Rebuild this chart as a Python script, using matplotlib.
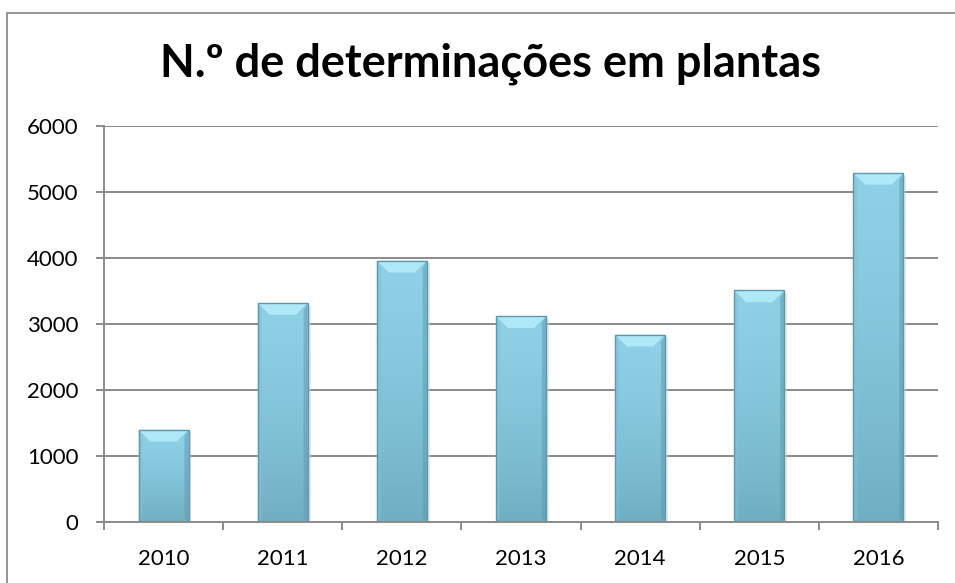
import matplotlib
matplotlib.use("Agg")
import matplotlib.pyplot as plt
import numpy as np
from matplotlib.patches import Rectangle, Polygon

years = ["2010", "2011", "2012", "2013", "2014", "2015", "2016"]
values = [1400, 3320, 3960, 3120, 2840, 3510, 5290]
yticks = [0, 1000, 2000, 3000, 4000, 5000, 6000]
title = "N.º de determinações em plantas"

W, H = 955, 583
fig = plt.figure(figsize=(W / 100, H / 100), dpi=100)
fig.patch.set_facecolor("white")
fig.patches.append(Rectangle((7 / W, -0.1), 1.2, 1 - 13 / H + 0.1, transform=fig.transFigure,
                             fill=False, edgecolor="#8c8c8c", linewidth=1.3))

ax = fig.add_axes([104 / W, 1 - 522 / H, (938 - 104) / W, (522 - 126) / H])
n = len(years)
ax.set_xlim(0, n)
ax.set_ylim(0, 6000)

grid_c = "#8a8a8a"
for t in yticks[1:]:
    ax.axhline(t, color=grid_c, lw=1.4, zorder=1)

bw = 0.42
top_c = np.array([0x8E, 0xD0, 0xE6]) / 255
bot_c = np.array([0x70, 0xAE, 0xC2]) / 255
grad = np.linspace(0, 1, 256) ** 1.5
grad = grad[:, None, None]
img = top_c * (1 - grad) + bot_c * grad
img = np.repeat(img, 2, axis=1)

for i, v in enumerate(values):
    x0 = i + 0.5 - bw / 2
    x1 = x0 + bw
    # shadow
    ax.add_patch(Rectangle((x0 + 0.01, 0), bw + 0.014, v - 40, facecolor="#cdd5d8", edgecolor="none",
                           alpha=0.5, zorder=2))
    im = ax.imshow(img, extent=(x0, x1, 0, v), aspect="auto", zorder=3, origin="upper",
                   interpolation="bilinear")
    rect = Rectangle((x0, 0), bw, v, facecolor="none", edgecolor="#5f98ab", lw=1.0, zorder=5)
    ax.add_patch(rect)
    im.set_clip_path(rect)
    # bevel
    bx = 0.1
    by = 180
    ax.add_patch(Polygon([(x0, v), (x1, v), (x1 - bx, v - by), (x0 + bx, v - by)],
                         closed=True, facecolor="#b2eaf8", edgecolor="none", alpha=0.95, zorder=4))
    ax.add_patch(Polygon([(x0, v), (x0 + bx * 0.35, v - by * 0.6), (x0 + bx * 0.35, 60), (x0, 0)],
                         closed=True, facecolor="#80c2d7", edgecolor="none", alpha=0.5, zorder=4))
    ax.add_patch(Polygon([(x1, v), (x1 - bx * 0.35, v - by * 0.6), (x1 - bx * 0.35, 60), (x1, 0)],
                         closed=True, facecolor="#5c99ad", edgecolor="none", alpha=0.5, zorder=4))

for s in ["top", "right"]:
    ax.spines[s].set_visible(False)
for s in ["left", "bottom"]:
    ax.spines[s].set_color(grid_c)
    ax.spines[s].set_linewidth(1.4)
    ax.spines[s].set_zorder(6)

font = "Lato"
ax.set_yticks(yticks)
ax.set_yticklabels([str(t) for t in yticks], fontsize=16, family=font)
ax.set_xticks(np.arange(n + 1))
ax.set_xticklabels([])
ax.set_xticks(np.arange(n) + 0.5, minor=True)
ax.set_xticklabels(years, minor=True, fontsize=16, family=font)
ax.tick_params(axis="x", which="minor", length=0, pad=19.5)
ax.tick_params(axis="x", which="major", length=5.8, color=grid_c, width=1.4, direction="out")
ax.tick_params(axis="y", length=5.8, color=grid_c, width=1.4, direction="out", pad=12.5)

fig.text(491 / W, 1 - 64 / H, title, ha="center", va="center", fontsize=32.5, fontweight="bold",
         family=font)

fig.savefig("out.png", dpi=100, facecolor="white")
